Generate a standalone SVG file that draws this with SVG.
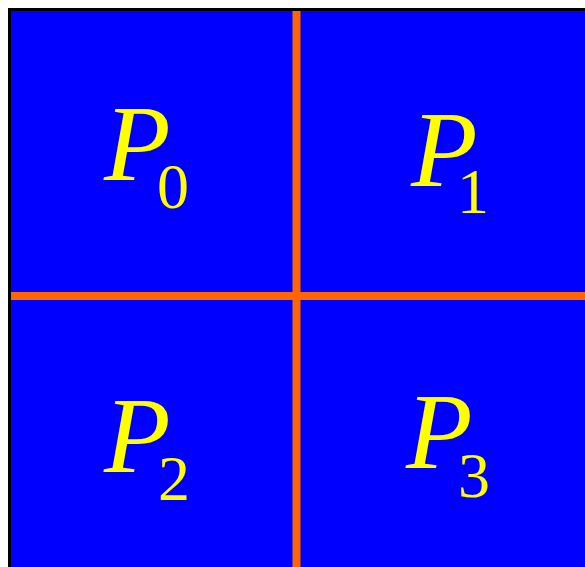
<svg xmlns="http://www.w3.org/2000/svg" width="585" height="567" viewBox="0 0 585 567">
<style>
.p{font-family:"Liberation Serif","Times New Roman",serif;font-style:italic;font-size:109px;fill:#ffff00}
.s{font-family:"Liberation Serif","Times New Roman",serif;font-size:64px;fill:#ffff00}
</style>
<rect width="585" height="567" fill="#ffffff"/>
<g id="frame">
<rect x="9.5" y="9.5" width="590" height="570" fill="#0000ff" stroke="#000000" stroke-width="3"/>
</g>
<g id="dividers">
<line x1="296.5" y1="11" x2="296.5" y2="567" stroke="#ff6600" stroke-width="8"/>
<line x1="11" y1="296" x2="585" y2="296" stroke="#ff6600" stroke-width="8"/>
</g>
<g id="P0"><text class="p" x="104" y="180">P</text><text class="s" x="157" y="208">0</text></g>
<g id="P1"><text class="p" x="411" y="186">P</text><text class="s" x="457" y="213">1</text></g>
<g id="P2"><text class="p" x="104" y="472">P</text><text class="s" x="158" y="500">2</text></g>
<g id="P3"><text class="p" x="406" y="468">P</text><text class="s" x="458" y="497">3</text></g>
</svg>
